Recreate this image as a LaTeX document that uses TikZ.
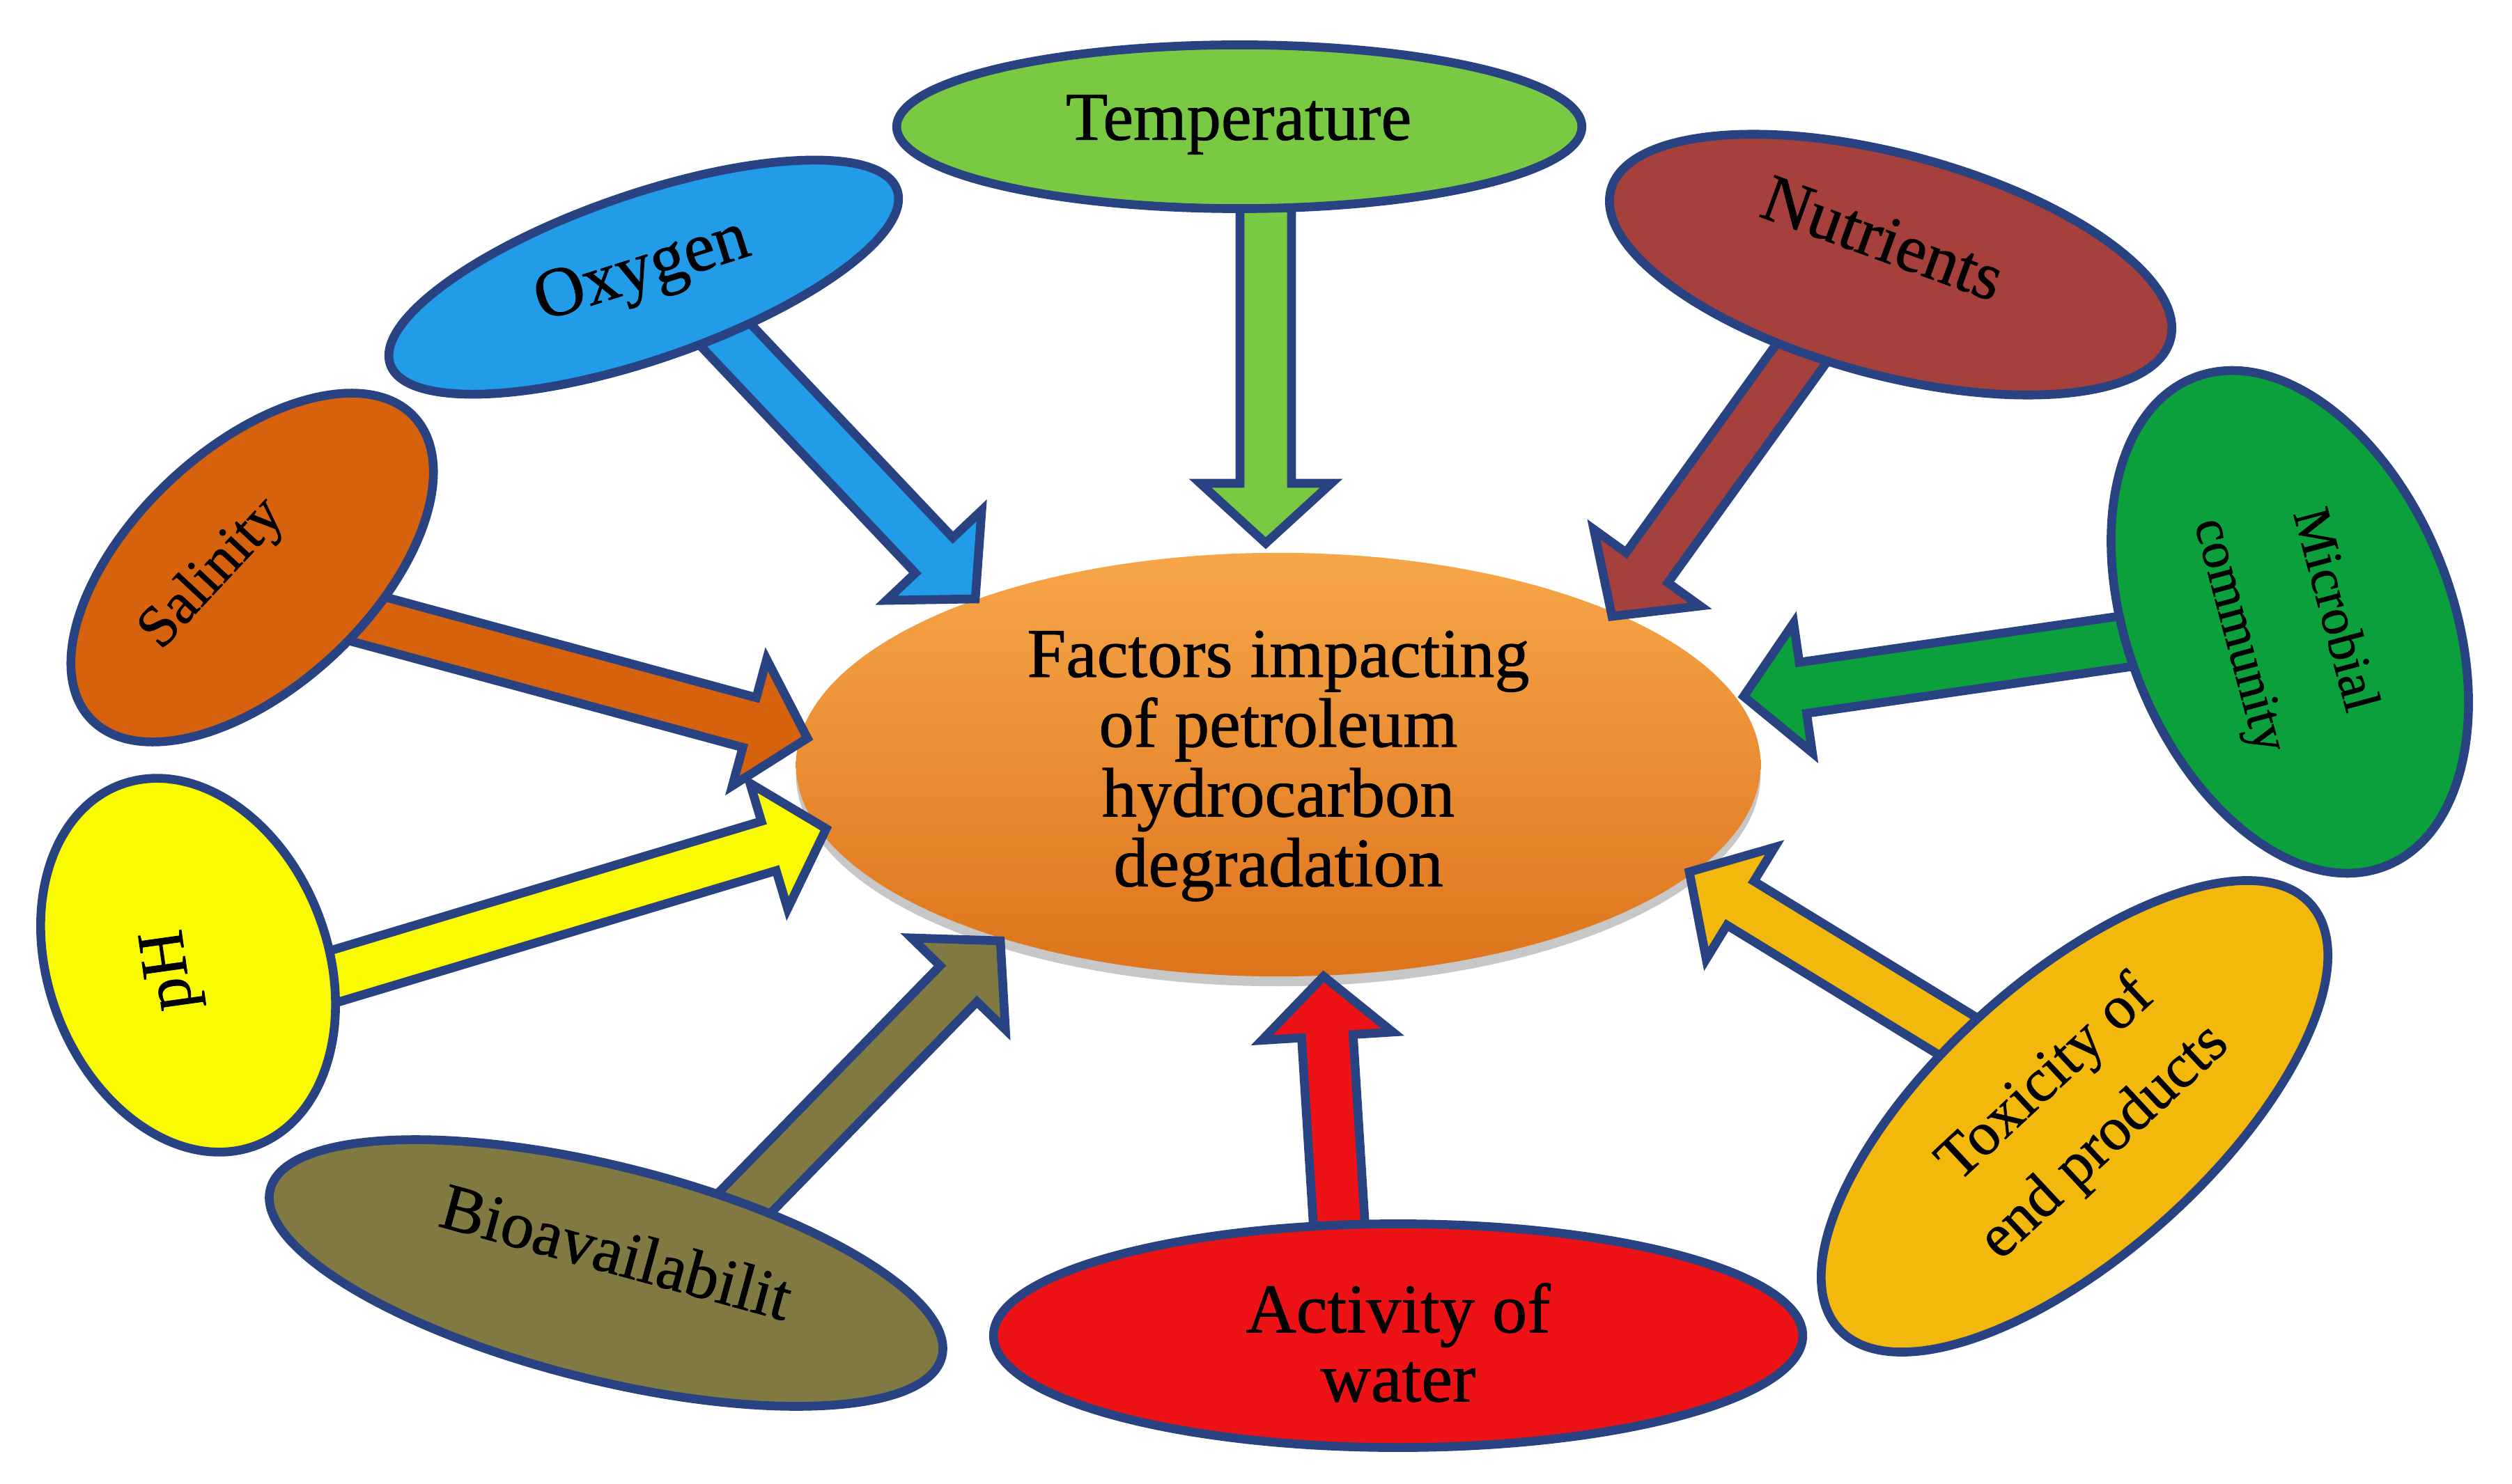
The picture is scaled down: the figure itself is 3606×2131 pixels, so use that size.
\documentclass[tikz,border=0pt]{standalone}
\usepackage{fontspec}
\setmainfont{Liberation Serif}[FakeBold=0.9]
\usetikzlibrary{shapes.geometric,calc,shadows}
\definecolor{edge}{RGB}{41,66,130}
\definecolor{cTemp}{RGB}{122,201,67}
\definecolor{cOxy}{RGB}{34,155,232}
\definecolor{cNut}{RGB}{166,64,61}
\definecolor{cMic}{RGB}{12,160,60}
\definecolor{cSal}{RGB}{214,98,14}
\definecolor{cPh}{RGB}{250,250,0}
\definecolor{cBio}{RGB}{128,122,66}
\definecolor{cAct}{RGB}{236,18,22}
\definecolor{cTox}{RGB}{242,184,12}
\definecolor{cTop}{RGB}{246,166,72}
\definecolor{cMid}{RGB}{240,140,42}
\definecolor{cBot}{RGB}{222,116,28}
\newcommand\arrHL{0.86cm}
\newcommand\arrHW{0.94cm}
\newcommand\arrSW{0.37cm}
\newcommand\farrow[3]{%
  \draw[arrowline, fill=#3] let \p1=($(#2)-(#1)$), \n1={atan2(\y1,\x1)} in
    (#2) -- ($(#2)+(\n1+180:\arrHL)+(\n1+90:\arrHW)$)
    -- ($(#2)+(\n1+180:\arrHL)+(\n1+90:\arrSW)$)
    -- ($(#1)+(\n1+90:\arrSW)$)
    -- ($(#1)+(\n1-90:\arrSW)$)
    -- ($(#2)+(\n1+180:\arrHL)+(\n1-90:\arrSW)$)
    -- ($(#2)+(\n1+180:\arrHL)+(\n1-90:\arrHW)$)
    -- cycle;}
\tikzset{
  oval/.style={ellipse, draw=edge, line width=3.6pt, inner sep=0pt, outer sep=0pt},
  arrowline/.style={draw=edge, line width=3.6pt, line join=miter, miter limit=10},
  lbl/.style={inner sep=0pt, text=black, align=center},
}
\begin{document}
\begin{tikzpicture}[x=0.01cm, y=-0.01cm]
\useasboundingbox (0,0) rectangle (3606,2131);
% central ellipse
\node[ellipse, minimum width=13.84cm, minimum height=6.08cm, inner sep=0pt,
      top color=cTop, middle color=cMid, bottom color=cBot,
      drop shadow={shadow xshift=0pt, shadow yshift=-4pt, opacity=0.22, fill=black}]
      (C) at (1835,1098) {};
% arrow end points
\coordinate (tTemp) at (1817,250);  \coordinate (hTemp) at (1817,780);
\coordinate (tOxy)  at (1000,437);  \coordinate (hOxy)  at (1400,860);
\coordinate (tNut)  at (2620,460);  \coordinate (hNut)  at (2314,885);
\coordinate (tSal)  at (480,876);   \coordinate (hSal)  at (1159,1060);
\coordinate (tPh)   at (420,1420);  \coordinate (hPh)   at (1186,1190);
\coordinate (tBio)  at (1040,1757); \coordinate (hBio)  at (1436,1351);
\coordinate (tAct)  at (1925,1800); \coordinate (hAct)  at (1900,1402);
\coordinate (tTox)  at (2830,1500); \coordinate (hTox)  at (2425,1252);
\coordinate (tMic)  at (3100,914);  \coordinate (hMic)  at (2503,1000);
% arrows
\farrow{tTemp}{hTemp}{cTemp}
\farrow{tOxy}{hOxy}{cOxy}
\farrow{tNut}{hNut}{cNut}
\farrow{tSal}{hSal}{cSal}
\farrow{tPh}{hPh}{cPh}
\farrow{tBio}{hBio}{cBio}
\farrow{tAct}{hAct}{cAct}
\farrow{tTox}{hTox}{cTox}
\farrow{tMic}{hMic}{cMic}
% outer ellipses
\node[oval, fill=cTemp, minimum width=9.83cm, minimum height=2.35cm] (Temp) at (1779,182) {};
\node[oval, fill=cOxy, rotate=19, minimum width=7.69cm, minimum height=2.37cm] (Oxy) at (924,398) {};
\node[oval, fill=cNut, rotate=-15, minimum width=8.31cm, minimum height=3.17cm] (Nut) at (2714,380) {};
\node[oval, fill=cSal, rotate=43, minimum width=6.35cm, minimum height=3.43cm] (Sal) at (362,815) {};
\node[oval, fill=cMic, rotate=-68.6, minimum width=7.53cm, minimum height=4.65cm] (Mic) at (3287,893) {};
\node[oval, fill=cPh, rotate=-69.3, minimum width=5.53cm, minimum height=4.01cm] (Ph) at (270,1386) {};
\node[oval, fill=cBio, rotate=-14, minimum width=9.93cm, minimum height=3.07cm] (Bio) at (870,1828) {};
\node[oval, fill=cAct, minimum width=11.61cm, minimum height=3.21cm] (Act) at (2007,1918) {};
\node[oval, fill=cTox, rotate=42, minimum width=9.11cm, minimum height=3.95cm] (Tox) at (2978,1603) {};
% labels
\node[lbl, font={\fontsize{28.5}{28.5}\selectfont}] (lC) at (1835,1100)
  {Factors impacting\\of petroleum\\hydrocarbon\\degradation};
\node[lbl, font={\fontsize{28}{30}\selectfont}] (lTemp) at (1778,179) {Temperature};
\node[lbl, rotate=17.5, font={\fontsize{28.5}{30}\selectfont}] (lOxy) at (923,392) {Oxygen};
\node[lbl, rotate=-20, font={\fontsize{27.5}{30}\selectfont}] (lNut) at (2703,342) {Nutrients};
\node[lbl, rotate=47, font={\fontsize{24}{28}\selectfont}] (lSal) at (306,825) {Salinity};
\node[lbl, rotate=-75, font={\fontsize{21.5}{40}\selectfont}] (lMic) at (3280,895) {Microbial\\community};
\node[lbl, rotate=98, font={\fontsize{27}{30}\selectfont}] (lPh) at (247,1393) {pH};
\node[lbl, rotate=-15.3, font={\fontsize{27}{30}\selectfont}] (lBio) at (885,1797) {Bioavailabilit};
\node[lbl, font={\fontsize{28.5}{28.2}\selectfont}] (lAct) at (2007,1928) {Activity of\\water};
\node[lbl, rotate=43, font={\fontsize{25}{35}\selectfont}] (lTox) at (2980,1596) {Toxicity of\\end products};
\end{tikzpicture}
\end{document}
